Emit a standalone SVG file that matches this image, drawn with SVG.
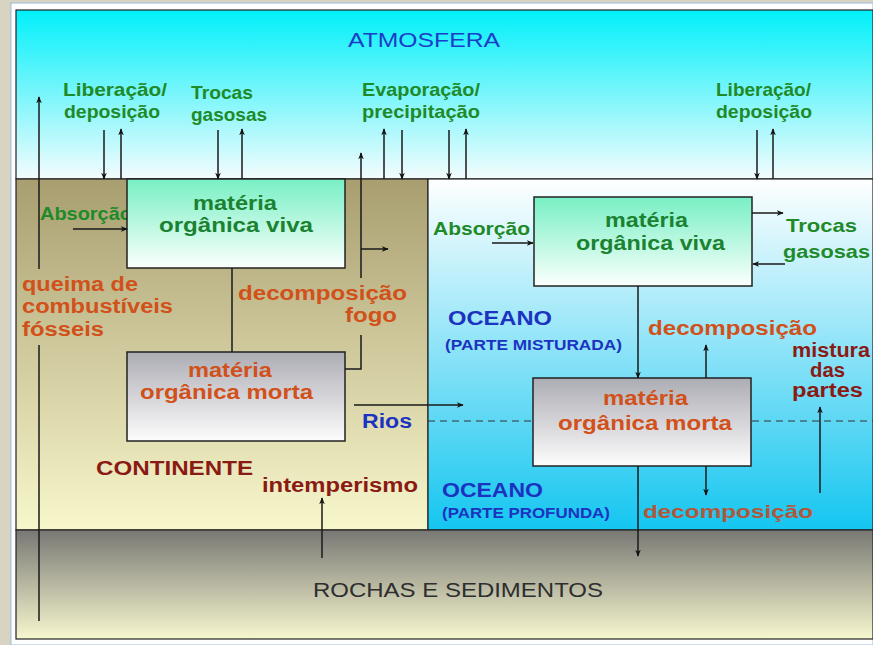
<svg xmlns="http://www.w3.org/2000/svg" width="873" height="645" viewBox="0 0 873 645">
<defs>
<linearGradient id="gAtm" x1="0" y1="0" x2="0" y2="1"><stop offset="0" stop-color="#00f0fa"/><stop offset="1" stop-color="#f4fcfd"/></linearGradient>
<linearGradient id="gCont" x1="0" y1="0" x2="0" y2="1"><stop offset="0" stop-color="#a89e70"/><stop offset="1" stop-color="#f8f7cc"/></linearGradient>
<linearGradient id="gOce" x1="0" y1="0" x2="0" y2="1"><stop offset="0" stop-color="#ffffff"/><stop offset="1" stop-color="#14c6f0"/></linearGradient>
<linearGradient id="gRock" x1="0" y1="0" x2="0" y2="1"><stop offset="0" stop-color="#787874"/><stop offset="1" stop-color="#f7f7cf"/></linearGradient>
<linearGradient id="gViva" x1="0" y1="0" x2="0" y2="1"><stop offset="0" stop-color="#78f0c4"/><stop offset="1" stop-color="#fbfffd"/></linearGradient>
<linearGradient id="gMorta" x1="0" y1="0" x2="0" y2="1"><stop offset="0" stop-color="#acacb4"/><stop offset="1" stop-color="#fdfdfd"/></linearGradient>
<marker id="ah" viewBox="0 0 10 10" refX="9" refY="5" markerWidth="7" markerHeight="7" orient="auto" markerUnits="userSpaceOnUse"><path d="M0,1 L10,5 L0,9 L3,5 z" fill="#111"/></marker>
</defs>
<style>
.box{stroke:#222;stroke-width:1.5}
.ln{stroke:#1a1a1a;stroke-width:1.5;fill:none}
.ar{stroke:#1a1a1a;stroke-width:1.5;fill:none;marker-end:url(#ah)}
text{font-family:"Liberation Sans",Arial,sans-serif}
.g{fill:#1e8a28;font-weight:bold;font-size:19px}
.gv{fill:#1a8230;font-weight:bold;font-size:20px}
.o{fill:#d2501a;font-weight:bold;font-size:20px}
.r{fill:#8a1a14;font-weight:bold;font-size:20px}
.b{fill:#1b33c0;font-weight:bold}
</style>
<rect x="0" y="0" width="873" height="645" fill="#d8d4c2"/>
<rect x="11" y="3" width="862" height="642" fill="#ffffff" stroke="#9cbbe2" stroke-width="1"/>
<g id="atmosfera"><rect x="16" y="10" width="857" height="169" fill="url(#gAtm)" stroke="#222" stroke-width="1.2"/></g>
<g id="continente"><rect x="16" y="179" width="412" height="351" fill="url(#gCont)" stroke="#222" stroke-width="1.2"/></g>
<g id="oceano"><rect x="428" y="179" width="445" height="351" fill="url(#gOce)" stroke="#222" stroke-width="1.2"/>
<line x1="428" y1="421" x2="873" y2="421" stroke="#333" stroke-width="1.2" stroke-dasharray="7,5"/></g>
<g id="rochas"><rect x="16" y="530" width="857" height="109" fill="url(#gRock)" stroke="#222" stroke-width="1.2"/></g>
<text x="40" y="220" class="g" font-size="16" textLength="92" lengthAdjust="spacingAndGlyphs">Absorção</text>
<g id="land-viva"><rect class="box" x="127" y="179" width="218" height="89" fill="url(#gViva)"/>
<text x="193" y="210" class="gv" textLength="84" lengthAdjust="spacingAndGlyphs">matéria</text>
<text x="159" y="232" class="gv" textLength="154" lengthAdjust="spacingAndGlyphs">orgânica viva</text></g>
<g id="land-morta"><rect class="box" x="127" y="352" width="218" height="89" fill="url(#gMorta)"/>
<text x="188" y="377" class="o" textLength="84" lengthAdjust="spacingAndGlyphs">matéria</text>
<text x="140" y="399" class="o" textLength="173" lengthAdjust="spacingAndGlyphs">orgânica morta</text></g>
<g id="ocean-viva"><rect class="box" x="534" y="197" width="218" height="89" fill="url(#gViva)"/>
<text x="605" y="227" class="gv" textLength="83" lengthAdjust="spacingAndGlyphs">matéria</text>
<text x="576" y="250" class="gv" textLength="149" lengthAdjust="spacingAndGlyphs">orgânica viva</text></g>
<g id="ocean-morta"><rect class="box" x="533" y="378" width="218" height="88" fill="url(#gMorta)"/>
<text x="603" y="405" class="o" textLength="85" lengthAdjust="spacingAndGlyphs">matéria</text>
<text x="558" y="430" class="o" textLength="174" lengthAdjust="spacingAndGlyphs">orgânica morta</text></g>
<g id="connectors">
<path class="ar" d="M39,621 V345 M39,269 V97"/>
<path class="ar" d="M104,130 V179"/><path class="ar" d="M121,179 V129"/>
<path class="ar" d="M218,130 V179"/><path class="ar" d="M242,179 V129"/>
<path class="ar" d="M402,130 V179"/><path class="ar" d="M384,179 V129"/>
<path class="ar" d="M449,130 V179"/><path class="ar" d="M466,179 V129"/>
<path class="ar" d="M757,130 V179"/><path class="ar" d="M773,179 V129"/>
<path class="ar" d="M345,369 H361 V335 M361,278 V153"/>
<path class="ar" d="M361,249 H388"/>
<path class="ln" d="M232,268 V352"/>
<path class="ar" d="M73,229 H127"/>
<path class="ar" d="M354,405 H463"/>
<path class="ar" d="M322,558 V498"/>
<path class="ar" d="M492,243 H533"/>
<path class="ar" d="M752,213 H783"/>
<path class="ar" d="M785,264 H753"/>
<path class="ar" d="M638,286 V378"/>
<path class="ar" d="M706,378 V345"/>
<path class="ar" d="M820,493 V407"/>
<path class="ar" d="M638,466 V556"/>
<path class="ar" d="M706,466 V495"/>
</g>
<g id="labels">
<text x="348" y="47" fill="#1b3ec9" font-size="21" textLength="152" lengthAdjust="spacingAndGlyphs">ATMOSFERA</text>
<text x="63" y="96" class="g" textLength="104" lengthAdjust="spacingAndGlyphs">Liberação/</text>
<text x="64" y="118" class="g" textLength="96" lengthAdjust="spacingAndGlyphs">deposição</text>
<text x="191" y="99" class="g" textLength="62" lengthAdjust="spacingAndGlyphs">Trocas</text>
<text x="191" y="121" class="g" textLength="76" lengthAdjust="spacingAndGlyphs">gasosas</text>
<text x="362" y="96" class="g" textLength="118" lengthAdjust="spacingAndGlyphs">Evaporação/</text>
<text x="362" y="118" class="g" textLength="118" lengthAdjust="spacingAndGlyphs">precipitação</text>
<text x="716" y="96" class="g" textLength="95" lengthAdjust="spacingAndGlyphs">Liberação/</text>
<text x="716" y="118" class="g" textLength="96" lengthAdjust="spacingAndGlyphs">deposição</text>
<text x="22" y="291" class="o" textLength="116" lengthAdjust="spacingAndGlyphs">queima de</text>
<text x="22" y="313" class="o" textLength="151" lengthAdjust="spacingAndGlyphs">combustíveis</text>
<text x="22" y="336" class="o" textLength="82" lengthAdjust="spacingAndGlyphs">fósseis</text>
<text x="238" y="300" class="o" textLength="169" lengthAdjust="spacingAndGlyphs">decomposição</text>
<text x="345" y="322" class="o" textLength="52" lengthAdjust="spacingAndGlyphs">fogo</text>
<text x="362" y="428" class="b" font-size="20" textLength="50" lengthAdjust="spacingAndGlyphs">Rios</text>
<text x="96" y="475" class="r" font-weight="normal" textLength="157" lengthAdjust="spacingAndGlyphs">CONTINENTE</text>
<text x="262" y="492" class="r" textLength="156" lengthAdjust="spacingAndGlyphs">intemperismo</text>
<text x="313" y="597" fill="#2e2e2e" font-size="21" textLength="290" lengthAdjust="spacingAndGlyphs">ROCHAS E SEDIMENTOS</text>
<text x="433" y="235" class="g" textLength="97" lengthAdjust="spacingAndGlyphs">Absorção</text>
<text x="786" y="232" class="g" textLength="71" lengthAdjust="spacingAndGlyphs">Trocas</text>
<text x="783" y="258" class="g" textLength="87" lengthAdjust="spacingAndGlyphs">gasosas</text>
<text x="448" y="325" class="b" font-size="21" font-weight="normal" textLength="104" lengthAdjust="spacingAndGlyphs">OCEANO</text>
<text x="445" y="350" class="b" font-size="14" textLength="177" lengthAdjust="spacingAndGlyphs">(PARTE MISTURADA)</text>
<text x="648" y="335" class="o" font-size="20" textLength="169" lengthAdjust="spacingAndGlyphs">decomposição</text>
<text x="792" y="357" class="r" font-size="17" textLength="78" lengthAdjust="spacingAndGlyphs">mistura</text>
<text x="810" y="377" class="r" font-size="17" textLength="35" lengthAdjust="spacingAndGlyphs">das</text>
<text x="792" y="397" class="r" font-size="17" textLength="71" lengthAdjust="spacingAndGlyphs">partes</text>
<text x="442" y="497" class="b" font-size="21" font-weight="normal" textLength="101" lengthAdjust="spacingAndGlyphs">OCEANO</text>
<text x="442" y="518" class="b" font-size="14" textLength="168" lengthAdjust="spacingAndGlyphs">(PARTE PROFUNDA)</text>
<text x="643" y="518" fill="#b4563a" font-weight="bold" font-size="19" textLength="170" lengthAdjust="spacingAndGlyphs">decomposição</text>
</g>
</svg>
